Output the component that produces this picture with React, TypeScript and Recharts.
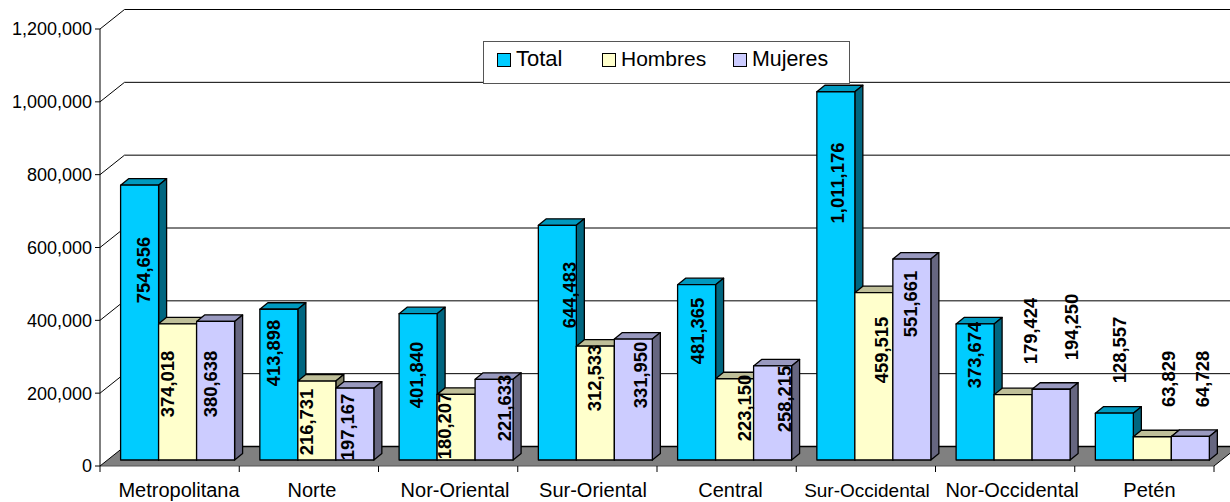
import React from "react";
import { BarChart, Bar, XAxis, YAxis, CartesianGrid, Legend, LabelList } from "recharts";

const categories = ["Metropolitana", "Norte", "Nor-Oriental", "Sur-Oriental", "Central", "Sur-Occidental", "Nor-Occidental", "Petén"];
const total = [754656, 413898, 401840, 644483, 481365, 1011176, 373674, 128557];
const hombres = [374018, 216731, 180207, 312533, 223150, 459515, 179424, 63829];
const mujeres = [380638, 197167, 221633, 331950, 258215, 551661, 194250, 64728];
const yTicks = [0, 200000, 400000, 600000, 800000, 1000000, 1200000];

// Hand-placed data labels of the reference, as nudges from the centre of each bar.
const totalNudgeX = [4.4, -4.85, -1.1, 12.65, 1.4, 2.15, -0.1, 5.65];
const totalNudgeY = [-52.6, -31.6, -11.8, -47.7, -41.4, -92.9, -37, -86.6];
const hombresNudgeX = [-9.6, -9.85, -11.1, -0.35, 10.4, 8.15, 17.9, 16.65];
const hombresNudgeY = [-7.9, 1.5, -1.2, -25.1, -11.4, -26.3, -96.3, -69.4];
const mujeresNudgeX = [-4.6, -6.85, 10.9, 7.65, 12.4, -0.85, 20.9, 12.65];
const mujeresNudgeY = [-6.7, 2.9, -11.6, -24.6, -14, -55.6, -97.6, -69.2];
const categoryNudgeX = [9.4, 3.1, 6.9, 5.6, 3.9, 1.1, 7, 5.1];
const categoryFontSize = [20, 20, 20, 20, 20, 19, 20, 20];

const FONT = '"Liberation Sans", Arial, sans-serif';
const W = 1230;
const H = 502;
const MARGIN = { top: 29, right: 16, bottom: 0, left: 0 };
const AXIS_W = 100;
const AXIS_H = 36;
const HALF_BAND = (W - AXIS_W - MARGIN.right) / categories.length / 2;
const WALL_DX = 24.5;
const WALL_DY = 19.5;
const BAR_DX = 8;
const BAR_DY = 6;
const DEPTH_DX = 8;
const DEPTH_DY = 6.5;

const tableData = categories.map((name, i) => ({
  name,
  Total: total[i],
  Hombres: hombres[i],
  Mujeres: mujeres[i],
}));

function Box3D(props: any) {
  const { x, y, width, height, fill, topFill, sideFill } = props;
  const l = x + BAR_DX;
  const t = y - BAR_DY;
  const r = l + width;
  const b = t + height;
  const d = DEPTH_DX;
  const e = DEPTH_DY;
  return (
    <g stroke="#000" strokeWidth={1.3} strokeLinejoin="round">
      <polygon points={`${l},${t} ${l + d},${t - e} ${r + d},${t - e} ${r},${t}`} fill={topFill} />
      <polygon points={`${r},${t} ${r + d},${t - e} ${r + d},${b - e} ${r},${b}`} fill={sideFill} />
      <rect x={l} y={t} width={width} height={height} fill={fill} />
    </g>
  );
}

function makeLabel(nx: number[], ny: number[]) {
  return (props: any) => {
    const { x, y, width, height, index, value } = props;
    const cx = x + BAR_DX + width / 2 + nx[index];
    const cy = y - BAR_DY + height / 2 + ny[index];
    return (
      <text
        x={cx}
        y={cy}
        transform={`rotate(-90 ${cx} ${cy})`}
        textAnchor="middle"
        dominantBaseline="central"
        fontFamily={FONT}
        fontSize={18.4}
        fontWeight="bold"
        fill="#000"
      >
        {Number(value).toLocaleString("en-US")}
      </text>
    );
  };
}

function GridLine(props: any) {
  const { x1, x2, y1 } = props;
  const bx = x1 + WALL_DX;
  const by = y1 - WALL_DY;
  const isFloor = Math.abs(y1 - (H - AXIS_H)) < 0.5;
  return (
    <g fill="none">
      {isFloor ? (
        <>
          <polygon points={`${x1},${y1} ${bx},${by} ${x2 + WALL_DX},${by} ${x2},${y1}`} fill="#808080" stroke="none" />
          <line x1={bx} y1={by} x2={x2 + WALL_DX} y2={by} stroke="#000" strokeWidth={1.5} />
          <line x1={x1} y1={y1} x2={x2} y2={y1} stroke="#555" strokeWidth={1} />
        </>
      ) : (
        <line x1={bx} y1={by} x2={x2 + WALL_DX} y2={by} stroke="#000" strokeWidth={1} />
      )}
      <line x1={x1} y1={y1} x2={bx} y2={by} stroke="#000" strokeWidth={1} />
      {isFloor ? <line x1={x2} y1={y1} x2={x2 + WALL_DX} y2={by} stroke="#000" strokeWidth={1} /> : null}
    </g>
  );
}

function CategoryTick(props: any) {
  const { x, y, index, payload } = props;
  const right = x + HALF_BAND;
  const left = x - HALF_BAND;
  return (
    <g>
      {index === 0 ? <line x1={left} y1={y} x2={left} y2={y + 6} stroke="#000" /> : null}
      <line x1={right} y1={y} x2={right} y2={y + 6} stroke="#000" />
      <text
        x={x + categoryNudgeX[index]}
        y={y + 24}
        textAnchor="middle"
        dominantBaseline="central"
        fontFamily={FONT}
        fontSize={categoryFontSize[index]}
        fill="#000"
      >
        {payload.value}
      </text>
    </g>
  );
}

const legendOrder = ["Total", "Hombres", "Mujeres"];
const swatchColors = ["#00CCFF", "#FFFFCC", "#CCCCFF"];
const legendSwatchLeft = [13, 118, 249];
const legendFontSize = [22, 21, 21.4];

function LegendBox() {
  return (
    <div
      style={{
        position: "relative",
        width: 367,
        height: 43,
        background: "#fff",
        border: "1px solid #555",
        boxSizing: "border-box",
        fontFamily: FONT,
        color: "#000",
      }}
    >
      {legendOrder.map((name, i) => (
        <React.Fragment key={name}>
          <span
            style={{
              position: "absolute",
              left: legendSwatchLeft[i],
              top: 11,
              width: 12,
              height: 12,
              background: swatchColors[i],
              border: "1.5px solid #000",
            }}
          />
          <span
            style={{
              position: "absolute",
              left: legendSwatchLeft[i] + 19,
              top: 5,
              lineHeight: "24px",
              whiteSpace: "nowrap",
              fontSize: legendFontSize[i],
            }}
          >
            {name}
          </span>
        </React.Fragment>
      ))}
    </div>
  );
}

export default function App() {
  return (
    <div style={{ position: "absolute", left: 0, top: 0, width: W, height: H, background: "#fff" }}>
      <BarChart width={W} height={H} data={tableData} margin={MARGIN} barCategoryGap={12.6} barGap={0}>
        <CartesianGrid vertical={false} horizontal={(p: any) => <GridLine {...p} />} />
        <XAxis
          dataKey="name"
          height={AXIS_H}
          axisLine={false}
          tickLine={false}
          tickSize={0}
          tickMargin={0}
          interval={0}
          tick={(p: any) => <CategoryTick {...p} />}
        />
        <YAxis
          width={AXIS_W}
          domain={[0, 1200000]}
          ticks={yTicks}
          interval={0}
          tickSize={5}
          tickMargin={3}
          axisLine={{ stroke: "#000", strokeWidth: 1 }}
          tickLine={{ stroke: "#000" }}
          tick={{ fontFamily: FONT, fontSize: 18, fill: "#000" }}
          tickFormatter={(v: number) => v.toLocaleString("en-US")}
        />
        <Legend
          layout="horizontal"
          verticalAlign="middle"
          align="center"
          wrapperStyle={{ left: 483, top: 41, width: 367, height: 43 }}
          content={() => <LegendBox />}
        />
        <Bar
          dataKey="Total"
          fill="#00CCFF"
          isAnimationActive={false}
          shape={(p: any) => <Box3D {...p} topFill="#0099BF" sideFill="#006680" />}
        >
          <LabelList dataKey="Total" content={makeLabel(totalNudgeX, totalNudgeY)} />
        </Bar>
        <Bar
          dataKey="Hombres"
          fill="#FFFFCC"
          isAnimationActive={false}
          shape={(p: any) => <Box3D {...p} topFill="#BFBF99" sideFill="#808066" />}
        >
          <LabelList dataKey="Hombres" content={makeLabel(hombresNudgeX, hombresNudgeY)} />
        </Bar>
        <Bar
          dataKey="Mujeres"
          fill="#CCCCFF"
          isAnimationActive={false}
          shape={(p: any) => <Box3D {...p} topFill="#9999BF" sideFill="#666680" />}
        >
          <LabelList dataKey="Mujeres" content={makeLabel(mujeresNudgeX, mujeresNudgeY)} />
        </Bar>
      </BarChart>
    </div>
  );
}
